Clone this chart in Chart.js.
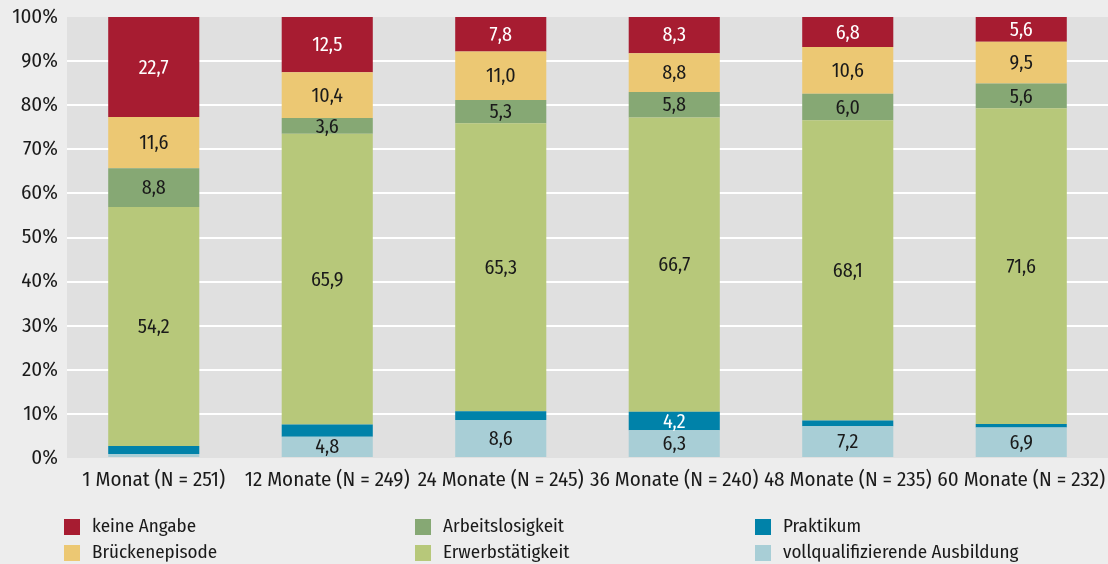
<!DOCTYPE html>
<html>
<head>
<meta charset="utf-8">
<script src="https://cdn.jsdelivr.net/npm/chart.js@4/dist/chart.umd.min.js"></script>
<style>
  html, body { margin: 0; padding: 0; background: #ededed; }
  #wrap { width: 1108px; height: 564px; position: relative; }
</style>
</head>
<body>
<div id="wrap"><canvas id="chart" width="1108" height="564"></canvas></div>
<script>
const SCHRIFT = '"Fira Sans Condensed", "Roboto Condensed", sans-serif';

const kategorien = [
  '1 Monat (N = 251)',
  '12 Monate (N = 249)',
  '24 Monate (N = 245)',
  '36 Monate (N = 240)',
  '48 Monate (N = 235)',
  '60 Monate (N = 232)',
];

const ausbildung = [0.9, 4.8, 8.6, 6.3, 7.2, 6.9];
const praktikum = [1.8, 2.8, 2.0, 4.2, 1.3, 0.8];
const erwerb = [54.2, 65.9, 65.3, 66.7, 68.1, 71.6];
const arbeitslos = [8.8, 3.6, 5.3, 5.8, 6.0, 5.6];
const bruecke = [11.6, 10.4, 11.0, 8.8, 10.6, 9.5];
const keineAngabe = [22.7, 12.5, 7.8, 8.3, 6.8, 5.6];

const ticksY = [0, 10, 20, 30, 40, 50, 60, 70, 80, 90, 100];

const PALETTE = {
  ROUGE: '#a71c31',
  JAUNE: '#ecc873',
  VERT_FONCE: '#86a874',
  VERT_CLAIR: '#b7c87a',
  BLEU_FONCE: '#0082a9',
  BLEU_CLAIR: '#a8ced6',
  FOND: '#e0e0e0',
  TEXTE: '#1a1a1a',
};

const seriesDef = [
  { label: 'vollqualifizierende Ausbildung', data: ausbildung, couleur: PALETTE.BLEU_CLAIR, texte: PALETTE.TEXTE },
  { label: 'Praktikum', data: praktikum, couleur: PALETTE.BLEU_FONCE, texte: '#fff' },
  { label: 'Erwerbstätigkeit', data: erwerb, couleur: PALETTE.VERT_CLAIR, texte: PALETTE.TEXTE },
  { label: 'Arbeitslosigkeit', data: arbeitslos, couleur: PALETTE.VERT_FONCE, texte: PALETTE.TEXTE },
  { label: 'Brückenepisode', data: bruecke, couleur: PALETTE.JAUNE, texte: PALETTE.TEXTE },
  { label: 'keine Angabe', data: keineAngabe, couleur: PALETTE.ROUGE, texte: '#fff' },
];

// ordre de la legende : colonnes de haut en bas
const ordreLegende = ['keine Angabe', 'Arbeitslosigkeit', 'Praktikum', 'Brückenepisode', 'Erwerbstätigkeit', 'vollqualifizierende Ausbildung'];

const fondZone = {
  id: 'fondZone',
  beforeDraw(chart) {
    const { ctx, chartArea: a } = chart;
    ctx.save();
    ctx.fillStyle = PALETTE.FOND;
    ctx.fillRect(a.left, a.top, a.right - a.left, a.bottom - a.top);
    ctx.restore();
  },
};

const etiquettes = {
  id: 'etiquettes',
  afterDatasetsDraw(chart) {
    const { ctx } = chart;
    ctx.save();
    ctx.font = '20px ' + SCHRIFT;
    ctx.textAlign = 'center';
    ctx.textBaseline = 'middle';
    chart.data.datasets.forEach((ds, i) => {
      const meta = chart.getDatasetMeta(i);
      meta.data.forEach((barre, j) => {
        const valeur = ds.data[j];
        if (valeur < 3.5) return;
        ctx.fillStyle = seriesDef[i].texte;
        ctx.fillText(valeur.toFixed(1).replace('.', ','), barre.x, (barre.y + barre.base) / 2 + 1);
      });
    });
    ctx.restore();
  },
};

const legende = {
  id: 'legende',
  afterDraw(chart) {
    const { ctx } = chart;
    const colonnesX = [64, 415, 755];
    const lignesY = [519, 545];
    ctx.save();
    ctx.font = '19px ' + SCHRIFT;
    ctx.textBaseline = 'middle';
    ctx.textAlign = 'left';
    ordreLegende.forEach((nom, k) => {
      const s = seriesDef.find((d) => d.label === nom);
      const x = colonnesX[k % 3];
      const y = lignesY[Math.floor(k / 3)];
      ctx.fillStyle = s.couleur;
      ctx.fillRect(x, y, 16, 16);
      ctx.fillStyle = PALETTE.TEXTE;
      ctx.fillText(nom, x + 28, y + 8);
    });
    ctx.restore();
  },
};

/* eslint-disable no-new */
new Chart(document.getElementById('chart'), {
  type: 'bar',
  plugins: [fondZone, etiquettes, legende],
  data: {
    labels: kategorien,
    datasets: seriesDef.map((s) => ({
      label: s.label,
      data: s.data,
      backgroundColor: s.couleur,
      borderWidth: 0,
      barPercentage: 0.525,
      categoryPercentage: 1,
    })),
  },
  options: {
    responsive: false,
    animation: false,
    events: [],
    layout: { padding: { top: 17, right: 0, bottom: 0, left: 0 } },
    plugins: {
      legend: { display: false },
      tooltip: { enabled: false },
    },
    scales: {
      x: {
        stacked: true,
        grid: { display: false },
        border: { display: false },
        ticks: {
          color: PALETTE.TEXTE,
          font: { family: SCHRIFT, size: 21 },
          padding: 2,
          maxRotation: 0,
          autoSkip: false,
        },
        afterFit(scale) {
          scale.height = 106;
          scale.paddingLeft = 0;
          scale.paddingRight = 0;
        },
      },
      y: {
        stacked: true,
        min: 0,
        max: 100,
        afterBuildTicks(scale) { scale.ticks = ticksY.map((v) => ({ value: v })); },
        grid: {
          color: (c) => (c.tick.value === 0 || c.tick.value === 100 ? 'transparent' : '#ffffff'),
          lineWidth: 2,
          drawTicks: false,
        },
        border: { display: false },
        ticks: {
          color: PALETTE.TEXTE,
          font: { family: SCHRIFT, size: 21 },
          padding: 9,
          callback: (v) => v + '%',
        },
        afterFit(scale) {
          scale.width = 67;
          scale.paddingTop = 0;
          scale.paddingBottom = 0;
        },
      },
    },
  },
});
/* eslint-enable no-new */
</script>
</body>
</html>
